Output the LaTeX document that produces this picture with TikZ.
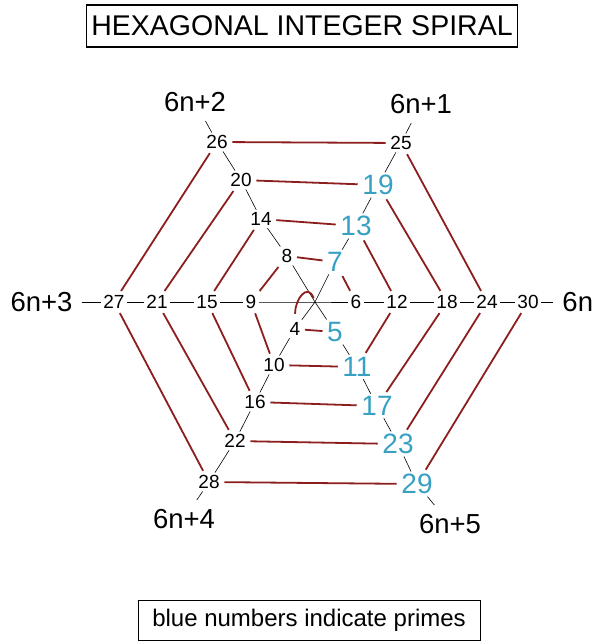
\documentclass[tikz,border=0pt]{standalone}
\usepackage{fontspec}
\setmainfont{Liberation Sans}
\usepackage{tikz}
\usetikzlibrary{positioning}

\definecolor{rimred}{RGB}{140,30,30}
\definecolor{primeblue}{RGB}{55,160,195}

\begin{document}
\begin{tikzpicture}[
		x=1pt, y=1pt,
		num/.style={
			inner sep=2.5pt,
			font=\fontsize{19}{19}\selectfont
		},
		prime/.style={
			num,
			text=primeblue,
			font=\fontsize{28}{28}\selectfont
		},
		form/.style={
			inner sep=9pt,
			font=\fontsize{27.5}{27.5}\selectfont
		},
		ax/.style={
			line width=0.6pt
		},
		rim/.style={
			draw=rimred,
			line width=1.8pt,
			shorten <=2pt,
			shorten >=2pt
		},
		titlebox/.style={
			rectangle,
			draw,
			line width=1.4pt,
			minimum width=431pt,
			minimum height=42pt,
			font=\fontsize{28.5}{28.5}\selectfont
		},
		notebox/.style={
			rectangle,
			draw,
			line width=0.8pt,
			minimum width=342pt,
			minimum height=40pt,
			font=\fontsize{24}{24}\selectfont
		}
		]
		
		\useasboundingbox (0,0) rectangle (595,-644);
		
		% Title
		\node[titlebox] (title) at (302,-26)
		{HEXAGONAL INTEGER SPIRAL};
		
		\coordinate (c) at (315,-302);
		
		% 6n and 6n+3
		\node[num] (n6) at (356,-302) {6};
		\node[num] (n12) at (397,-302) {12};
		\node[num] (n18) at (447,-302) {18};
		\node[num] (n24) at (487,-302) {24};
		\node[num] (n30) at (528,-302) {30};
		\node[form, right=12pt of n30] (f0) {6n};
		
		\node[num] (n9) at (251,-302) {9};
		\node[num] (n15) at (207,-302) {15};
		\node[num] (n21) at (157,-302) {21};
		\node[num] (n27) at (114,-302) {27};
		\node[form, left=19pt of n27] (f3) {6n+3};
		
		% 6n+1 and 6n+4
		\node[prime] (n7) at (335,-262) {7};
		\node[prime] (n13) at (356,-226) {13};
		\node[prime] (n19) at (378,-185) {19};
		\node[num] (n25) at (401,-143) {25};
		\node[form] (f1) at (421,-104) {6n+1};
		
		\node[num] (n4) at (295,-329) {4};
		\node[num] (n10) at (274,-365) {10};
		\node[num] (n16) at (255,-402) {16};
		\node[num] (n22) at (235,-441) {22};
		\node[num] (n28) at (209,-482) {28};
		\node[form] (f4) at (184,-519) {6n+4};
		
		% 6n+2 and 6n+5
		\node[num] (n8) at (287,-256) {8};
		\node[num] (n14) at (261,-219) {14};
		\node[num] (n20) at (241,-180) {20};
		\node[num] (n26) at (217,-142) {26};
		\node[form] (f2) at (195,-102) {6n+2};
		
		\node[prime] (n5) at (335,-332) {5};
		\node[prime] (n11) at (357,-367) {11};
		\node[prime] (n17) at (377,-406) {17};
		\node[prime] (n23) at (398,-444) {23};
		\node[prime] (n29) at (417,-484) {29};
		\node[form] (f5) at (450,-524) {6n+5};
		
		% Axes
		\draw[ax] (f3) -- (n27) -- (n21) -- (n15) -- (n9) -- (c)
		-- (n6) -- (n12) -- (n18) -- (n24) -- (n30) -- (f0);
		\draw[ax] (f1) -- (n25) -- (n19) -- (n13) -- (n7) -- (c)
		-- (n4) -- (n10) -- (n16) -- (n22) -- (n28) -- (f4);
		\draw[ax] (f2) -- (n26) -- (n20) -- (n14) -- (n8) -- (c)
		-- (n5) -- (n11) -- (n17) -- (n23) -- (n29) -- (f5);
		
		% Spiral
		\draw[rim, shorten <=4pt, shorten >=6pt] (c)
		to[out=110, in=90, looseness=2] (n4);
		\draw[rim] (n4) -- (n5);
		
		\draw[rim] (n6) -- (n7);
		\draw[rim] (n7) -- (n8);
		\draw[rim] (n8) -- (n9);
		\draw[rim] (n9) -- (n10);
		\draw[rim] (n10) -- (n11);
		\draw[rim] (n11) -- (n12);
		
		\draw[rim] (n12) -- (n13);
		\draw[rim] (n13) -- (n14);
		\draw[rim] (n14) -- (n15);
		\draw[rim] (n15) -- (n16);
		\draw[rim] (n16) -- (n17);
		\draw[rim] (n17) -- (n18);
		
		\draw[rim] (n18) -- (n19);
		\draw[rim] (n19) -- (n20);
		\draw[rim] (n20) -- (n21);
		\draw[rim] (n21) -- (n22);
		\draw[rim] (n22) -- (n23);
		\draw[rim] (n23) -- (n24);
		
		\draw[rim] (n24) -- (n25);
		\draw[rim] (n25) -- (n26);
		\draw[rim] (n26) -- (n27);
		\draw[rim] (n27) -- (n28);
		\draw[rim] (n28) -- (n29);
		\draw[rim] (n29) -- (n30);
		
		% Note
		\node[notebox] (note) at (309,-620)
		{blue numbers indicate primes};
		
	\end{tikzpicture}
\end{document}
